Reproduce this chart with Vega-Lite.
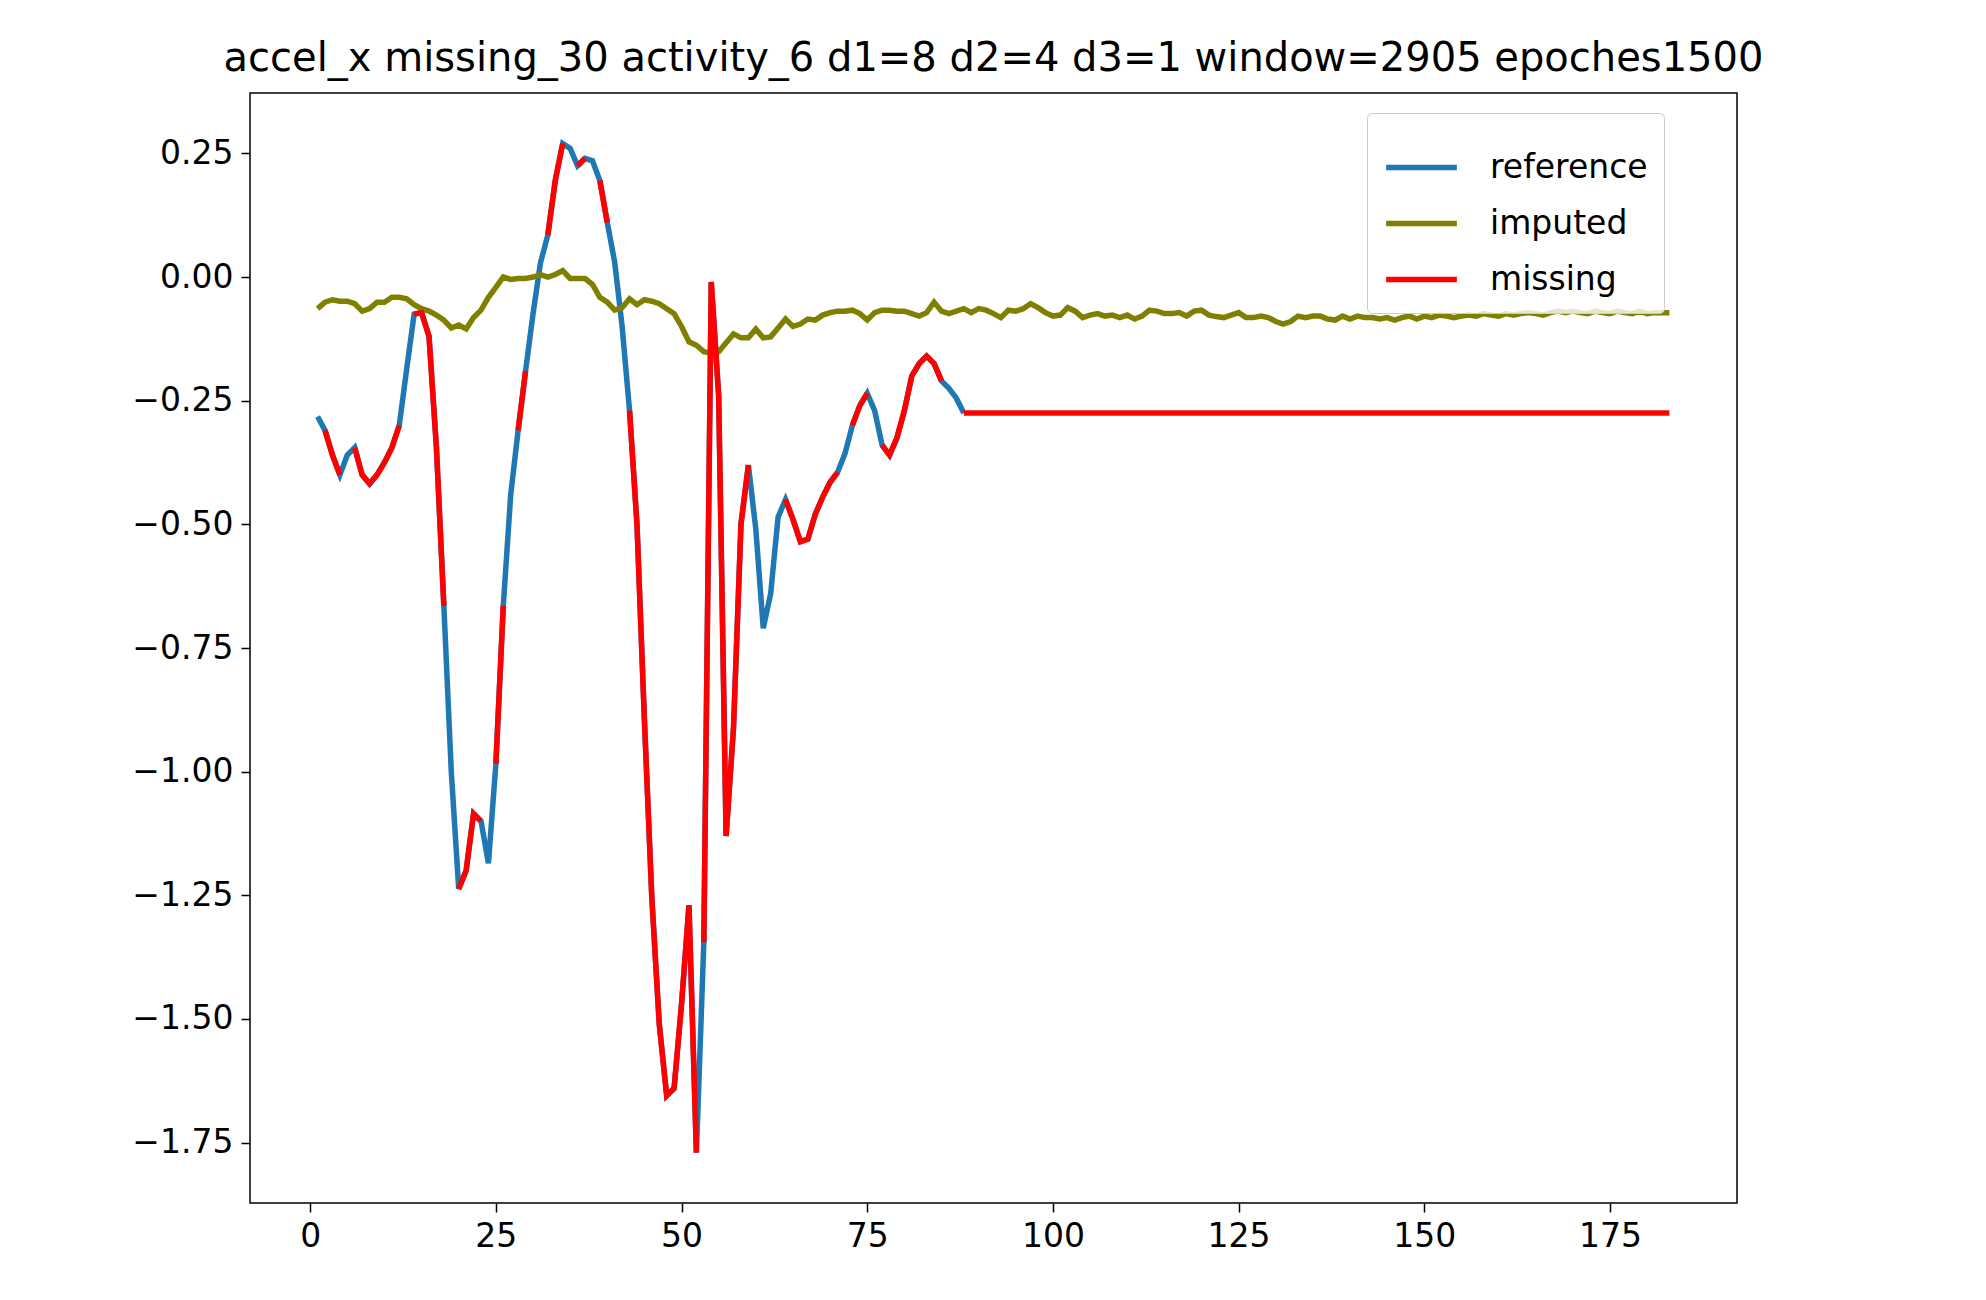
{
  "$schema": "https://vega.github.io/schema/vega-lite/v6.json",
  "width": 1487,
  "height": 1110,
  "autosize": {"type": "none"},
  "padding": {"left": 250, "top": 93, "right": 249, "bottom": 97},
  "background": "white",
  "title": {"text": "accel_x missing_30 activity_6 d1=8 d2=4 d3=1 window=2905 epoches1500", "font": "DejaVu Sans", "fontSize": 40, "fontWeight": "normal", "offset": 14, "color": "black"},
  "config": {
    "view": {"stroke": "black", "strokeWidth": 1.5},
    "axis": {"grid": false, "domain": false, "labelFont": "DejaVu Sans", "labelFontSize": 33, "labelColor": "black", "tickColor": "black", "tickSize": 9, "tickWidth": 1.5, "labelPadding": 8, "title": null},
    "line": {"strokeWidth": 5.5}
  },
  "datasets": {
    "ref": [
      {"x":1,"y":-0.282},{"x":2,"y":-0.31},{"x":3,"y":-0.36},{"x":4,"y":-0.40},{"x":5,"y":-0.36},{"x":6,"y":-0.345},{"x":7,"y":-0.40},{"x":8,"y":-0.418},{"x":9,"y":-0.40},{"x":10,"y":-0.375},
      {"x":11,"y":-0.345},{"x":12,"y":-0.30},{"x":13,"y":-0.185},{"x":14,"y":-0.075},{"x":15,"y":-0.072},{"x":16,"y":-0.12},{"x":17,"y":-0.345},{"x":18,"y":-0.665},{"x":19,"y":-1.0},{"x":20,"y":-1.237},
      {"x":21,"y":-1.20},{"x":22,"y":-1.085},{"x":23,"y":-1.10},{"x":24,"y":-1.185},{"x":25,"y":-0.985},{"x":26,"y":-0.665},{"x":27,"y":-0.44},{"x":28,"y":-0.31},{"x":29,"y":-0.19},{"x":30,"y":-0.075},
      {"x":31,"y":0.028},{"x":32,"y":0.085},{"x":33,"y":0.195},{"x":34,"y":0.27},{"x":35,"y":0.26},{"x":36,"y":0.225},{"x":37,"y":0.24},{"x":38,"y":0.235},{"x":39,"y":0.195},{"x":40,"y":0.11},
      {"x":41,"y":0.03},{"x":42,"y":-0.10},{"x":43,"y":-0.27},{"x":44,"y":-0.50},{"x":45,"y":-0.895},{"x":46,"y":-1.255},{"x":47,"y":-1.51},{"x":48,"y":-1.655},{"x":49,"y":-1.64},{"x":50,"y":-1.47},
      {"x":51,"y":-1.27},{"x":52,"y":-1.77},{"x":53,"y":-1.345},{"x":54,"y":-0.01},{"x":55,"y":-0.24},{"x":56,"y":-1.13},{"x":57,"y":-0.91},{"x":58,"y":-0.50},{"x":59,"y":-0.38},{"x":60,"y":-0.51},
      {"x":61,"y":-0.71},{"x":62,"y":-0.64},{"x":63,"y":-0.485},{"x":64,"y":-0.45},{"x":65,"y":-0.49},{"x":66,"y":-0.535},{"x":67,"y":-0.53},{"x":68,"y":-0.48},{"x":69,"y":-0.445},{"x":70,"y":-0.415},
      {"x":71,"y":-0.395},{"x":72,"y":-0.357},{"x":73,"y":-0.30},{"x":74,"y":-0.26},{"x":75,"y":-0.235},{"x":76,"y":-0.27},{"x":77,"y":-0.34},{"x":78,"y":-0.36},{"x":79,"y":-0.325},{"x":80,"y":-0.27},
      {"x":81,"y":-0.20},{"x":82,"y":-0.175},{"x":83,"y":-0.16},{"x":84,"y":-0.175},{"x":85,"y":-0.21},{"x":86,"y":-0.225},{"x":87,"y":-0.245},{"x":88,"y":-0.275}
    ],
    "imp": [
      {"x":1,"y":-0.064},{"x":2,"y":-0.051},{"x":3,"y":-0.046},{"x":4,"y":-0.049},{"x":5,"y":-0.049},{"x":6,"y":-0.054},{"x":7,"y":-0.069},{"x":8,"y":-0.064},{"x":9,"y":-0.051},{"x":10,"y":-0.051},
      {"x":11,"y":-0.041},{"x":12,"y":-0.041},{"x":13,"y":-0.044},{"x":14,"y":-0.056},{"x":15,"y":-0.064},{"x":16,"y":-0.069},{"x":17,"y":-0.077},{"x":18,"y":-0.087},{"x":19,"y":-0.103},{"x":20,"y":-0.097},
      {"x":21,"y":-0.105},{"x":22,"y":-0.082},{"x":23,"y":-0.067},{"x":24,"y":-0.041},{"x":25,"y":-0.021},{"x":26,"y":0},{"x":27,"y":-0.005},{"x":28,"y":-0.003},{"x":29,"y":-0.003},{"x":30,"y":0},
      {"x":31,"y":0.005},{"x":32,"y":0},{"x":33,"y":0.005},{"x":34,"y":0.013},{"x":35,"y":-0.003},{"x":36,"y":-0.003},{"x":37,"y":-0.003},{"x":38,"y":-0.015},{"x":39,"y":-0.041},{"x":40,"y":-0.051},
      {"x":41,"y":-0.067},{"x":42,"y":-0.062},{"x":43,"y":-0.044},{"x":44,"y":-0.056},{"x":45,"y":-0.046},{"x":46,"y":-0.049},{"x":47,"y":-0.054},{"x":48,"y":-0.064},{"x":49,"y":-0.074},{"x":50,"y":-0.1},
      {"x":51,"y":-0.131},{"x":52,"y":-0.138},{"x":53,"y":-0.151},{"x":54,"y":-0.154},{"x":55,"y":-0.151},{"x":56,"y":-0.133},{"x":57,"y":-0.115},{"x":58,"y":-0.123},{"x":59,"y":-0.123},{"x":60,"y":-0.105},
      {"x":61,"y":-0.123},{"x":62,"y":-0.121},{"x":63,"y":-0.103},{"x":64,"y":-0.085},{"x":65,"y":-0.1},{"x":66,"y":-0.095},{"x":67,"y":-0.085},{"x":68,"y":-0.087},{"x":69,"y":-0.077},{"x":70,"y":-0.072},
      {"x":71,"y":-0.069},{"x":72,"y":-0.069},{"x":73,"y":-0.067},{"x":74,"y":-0.074},{"x":75,"y":-0.087},{"x":76,"y":-0.072},{"x":77,"y":-0.067},{"x":78,"y":-0.067},{"x":79,"y":-0.069},{"x":80,"y":-0.069},
      {"x":81,"y":-0.074},{"x":82,"y":-0.079},{"x":83,"y":-0.072},{"x":84,"y":-0.051},{"x":85,"y":-0.069},{"x":86,"y":-0.074},{"x":87,"y":-0.069},{"x":88,"y":-0.064},{"x":89,"y":-0.072},{"x":90,"y":-0.064},
      {"x":91,"y":-0.067},{"x":92,"y":-0.074},{"x":93,"y":-0.082},{"x":94,"y":-0.067},{"x":95,"y":-0.069},{"x":96,"y":-0.064},{"x":97,"y":-0.054},{"x":98,"y":-0.062},{"x":99,"y":-0.072},{"x":100,"y":-0.079},
      {"x":101,"y":-0.077},{"x":102,"y":-0.062},{"x":103,"y":-0.069},{"x":104,"y":-0.082},{"x":105,"y":-0.077},{"x":106,"y":-0.074},{"x":107,"y":-0.079},{"x":108,"y":-0.077},{"x":109,"y":-0.082},{"x":110,"y":-0.077},
      {"x":111,"y":-0.085},{"x":112,"y":-0.079},{"x":113,"y":-0.067},{"x":114,"y":-0.069},{"x":115,"y":-0.074},{"x":116,"y":-0.074},{"x":117,"y":-0.072},{"x":118,"y":-0.079},{"x":119,"y":-0.069},{"x":120,"y":-0.067},
      {"x":121,"y":-0.077},{"x":122,"y":-0.08},{"x":123,"y":-0.082},{"x":124,"y":-0.077},{"x":125,"y":-0.072},{"x":126,"y":-0.082},{"x":127,"y":-0.082},{"x":128,"y":-0.079},{"x":129,"y":-0.082},{"x":130,"y":-0.09},
      {"x":131,"y":-0.095},{"x":132,"y":-0.09},{"x":133,"y":-0.079},{"x":134,"y":-0.082},{"x":135,"y":-0.079},{"x":136,"y":-0.079},{"x":137,"y":-0.085},{"x":138,"y":-0.087},{"x":139,"y":-0.079},{"x":140,"y":-0.085},
      {"x":141,"y":-0.079},{"x":142,"y":-0.082},{"x":143,"y":-0.082},{"x":144,"y":-0.085},{"x":145,"y":-0.082},{"x":146,"y":-0.087},{"x":147,"y":-0.082},{"x":148,"y":-0.079},{"x":149,"y":-0.085},{"x":150,"y":-0.079},
      {"x":151,"y":-0.082},{"x":152,"y":-0.077},{"x":153,"y":-0.079},{"x":154,"y":-0.082},{"x":155,"y":-0.079},{"x":156,"y":-0.077},{"x":157,"y":-0.079},{"x":158,"y":-0.074},{"x":159,"y":-0.077},{"x":160,"y":-0.079},
      {"x":161,"y":-0.074},{"x":162,"y":-0.077},{"x":163,"y":-0.074},{"x":164,"y":-0.072},{"x":165,"y":-0.074},{"x":166,"y":-0.077},{"x":167,"y":-0.072},{"x":168,"y":-0.069},{"x":169,"y":-0.072},{"x":170,"y":-0.069},
      {"x":171,"y":-0.072},{"x":172,"y":-0.074},{"x":173,"y":-0.069},{"x":174,"y":-0.072},{"x":175,"y":-0.074},{"x":176,"y":-0.069},{"x":177,"y":-0.072},{"x":178,"y":-0.074},{"x":179,"y":-0.069},{"x":180,"y":-0.074},
      {"x":181,"y":-0.072},{"x":182,"y":-0.072},{"x":183,"y":-0.072}
    ],
    "miss": [
      {"g":1,"x":2,"y":-0.31},{"g":1,"x":3,"y":-0.36},{"g":1,"x":4,"y":-0.40},
      {"g":2,"x":6,"y":-0.345},{"g":2,"x":7,"y":-0.40},{"g":2,"x":8,"y":-0.418},{"g":2,"x":9,"y":-0.40},{"g":2,"x":10,"y":-0.375},{"g":2,"x":11,"y":-0.345},{"g":2,"x":12,"y":-0.30},
      {"g":3,"x":14,"y":-0.075},{"g":3,"x":15,"y":-0.072},{"g":3,"x":16,"y":-0.12},{"g":3,"x":17,"y":-0.345},{"g":3,"x":18,"y":-0.665},
      {"g":4,"x":20,"y":-1.237},{"g":4,"x":21,"y":-1.20},{"g":4,"x":22,"y":-1.085},{"g":4,"x":23,"y":-1.10},
      {"g":5,"x":25,"y":-0.985},{"g":5,"x":26,"y":-0.665},
      {"g":6,"x":28,"y":-0.31},{"g":6,"x":29,"y":-0.19},
      {"g":7,"x":32,"y":0.085},{"g":7,"x":33,"y":0.195},{"g":7,"x":34,"y":0.27},
      {"g":8,"x":36,"y":0.225},{"g":8,"x":37,"y":0.24},
      {"g":9,"x":39,"y":0.195},{"g":9,"x":40,"y":0.11},
      {"g":10,"x":43,"y":-0.27},{"g":10,"x":44,"y":-0.50},{"g":10,"x":45,"y":-0.895},{"g":10,"x":46,"y":-1.255},{"g":10,"x":47,"y":-1.51},{"g":10,"x":48,"y":-1.655},{"g":10,"x":49,"y":-1.64},{"g":10,"x":50,"y":-1.47},{"g":10,"x":51,"y":-1.27},{"g":10,"x":52,"y":-1.77},
      {"g":11,"x":53,"y":-1.345},{"g":11,"x":54,"y":-0.01},{"g":11,"x":55,"y":-0.24},{"g":11,"x":56,"y":-1.13},{"g":11,"x":57,"y":-0.91},{"g":11,"x":58,"y":-0.50},{"g":11,"x":59,"y":-0.38},
      {"g":12,"x":64,"y":-0.45},{"g":12,"x":65,"y":-0.49},{"g":12,"x":66,"y":-0.535},{"g":12,"x":67,"y":-0.53},{"g":12,"x":68,"y":-0.48},{"g":12,"x":69,"y":-0.445},{"g":12,"x":70,"y":-0.415},{"g":12,"x":71,"y":-0.395},
      {"g":13,"x":73,"y":-0.30},{"g":13,"x":74,"y":-0.26},{"g":13,"x":75,"y":-0.235},
      {"g":14,"x":77,"y":-0.34},{"g":14,"x":78,"y":-0.36},{"g":14,"x":79,"y":-0.325},{"g":14,"x":80,"y":-0.27},{"g":14,"x":81,"y":-0.20},{"g":14,"x":82,"y":-0.175},{"g":14,"x":83,"y":-0.16},{"g":14,"x":84,"y":-0.175},{"g":14,"x":85,"y":-0.21},
      {"g":15,"x":88,"y":-0.275},{"g":15,"x":183,"y":-0.275}
    ]
  },
  "encoding": {
    "x": {"field": "x", "type": "quantitative", "scale": {"domain": [-8.1, 192.1], "nice": false, "zero": false}, "axis": {"values": [0, 25, 50, 75, 100, 125, 150, 175]}},
    "y": {"field": "y", "type": "quantitative", "scale": {"domain": [-1.872, 0.372], "nice": false, "zero": false}, "axis": {"values": [-1.75, -1.5, -1.25, -1, -0.75, -0.5, -0.25, 0, 0.25], "format": ".2f"}},
    "color": {
      "field": "s", "type": "nominal",
      "scale": {"domain": ["reference", "imputed", "missing"], "range": ["#1f77b4", "#808000", "#ff0000"]},
      "legend": {
        "title": null, "orient": "none", "legendX": 1117, "legendY": 20,
        "symbolType": "stroke", "symbolSize": 5000, "symbolStrokeWidth": 6,
        "labelFont": "DejaVu Sans", "labelFontSize": 33, "labelColor": "black", "labelOffset": 30,
        "rowPadding": -11, "padding": 16,
        "fillColor": "rgba(255,255,255,0.8)", "strokeColor": "#cccccc", "cornerRadius": 5
      }
    }
  },
  "layer": [
    {"data": {"name": "ref"}, "transform": [{"calculate": "'reference'", "as": "s"}], "mark": {"type": "line"}},
    {"data": {"name": "imp"}, "transform": [{"calculate": "'imputed'", "as": "s"}], "mark": {"type": "line"}},
    {"data": {"name": "miss"}, "transform": [{"calculate": "'missing'", "as": "s"}], "mark": {"type": "line"}, "encoding": {"detail": {"field": "g", "type": "nominal"}}}
  ]
}
